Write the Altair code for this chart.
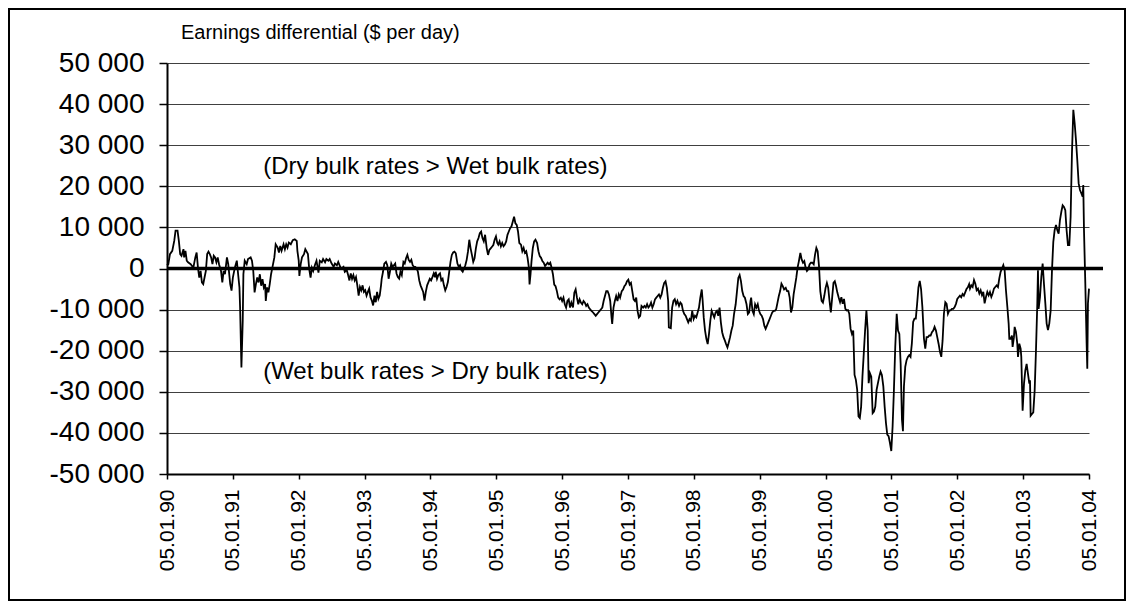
import altair as alt
import pandas as pd

# ---- data (decimal year, differential in thousand $/day) ----
years_a = [1990.00, 1990.02, 1990.045, 1990.08, 1990.11, 1990.13, 1990.16, 1990.18, 1990.20, 1990.22, 1990.25, 1990.26, 1990.28, 1990.30, 1990.32, 1990.36,
           1990.40, 1990.43, 1990.45, 1990.47, 1990.49, 1990.51, 1990.53, 1990.55, 1990.57, 1990.59, 1990.61, 1990.63, 1990.65, 1990.67, 1990.69, 1990.71,
           1990.73, 1990.75, 1990.77, 1990.79, 1990.82, 1990.84, 1990.86, 1990.88, 1990.91, 1990.93, 1990.96, 1990.98,
           1991.00, 1991.03, 1991.06, 1991.08, 1991.10, 1991.11, 1991.13, 1991.15, 1991.16, 1991.18, 1991.21, 1991.23, 1991.27, 1991.29, 1991.31, 1991.33,
           1991.35, 1991.37, 1991.39, 1991.41, 1991.43, 1991.45, 1991.47, 1991.49, 1991.50, 1991.52, 1991.54, 1991.56, 1991.58, 1991.60, 1991.63, 1991.65,
           1991.68, 1991.70, 1991.72, 1991.74, 1991.77, 1991.79, 1991.81, 1991.83, 1991.85, 1991.88, 1991.91, 1991.94, 1991.97, 1991.98,
           1992.00, 1992.01, 1992.03, 1992.05, 1992.08, 1992.10, 1992.14, 1992.16, 1992.18, 1992.20, 1992.22, 1992.25, 1992.27, 1992.30, 1992.32, 1992.35,
           1992.37, 1992.40, 1992.42, 1992.45, 1992.47]
vals_a = [0.8, 1.05, 3.5, 4.3, 6.7, 9.2, 9.2, 6.7, 3.5, 3.1, 4.7, 2.7, 4.3, 1.9, 1.5, 1.05,
          0.2, 2.7, 3.9, 0.2, -2.2, -0.6, -3.4, -3.8, -2.2, -0.6, 3.5, 4.1, 3.5, 2.7, 1.05, 3.1,
          2.7, 1.5, 2.7, 1.05, -0.6, -3.4, -0.6, -1.4, 2.7, 1.05, -3.8, -5.4,
          -2.2, 0.2, 1.9, -1.4, -4.6, -9.5, -24.1, -12.7, -1.4, 1.9, 1.05, 2.3, 2.7, 1.9, -0.6, -5.8,
          -3.8, -2.2, -3.4, -1.4, -4.2, -2.6, -4.6, -3.8, -7.9, -4.6, -5.8, -3.8, -1.4, 0.2, 2.7, 5.9,
          5.1, 3.9, 5.5, 4.3, 5.9, 4.7, 5.9, 5.1, 6.3, 5.9, 6.9, 7.1, 6.7, 4.3,
          1.9, -1.8, 1.05, 2.7, 3.5, 4.7, 3.5, -0.2, -2.2, 0.2, -0.6, 1.05, 1.9, -1.0, 1.9, 1.5,
          2.3, 1.5, 2.3, 1.9, 2.3]

years_b = [1992.50, 1992.53, 1992.55, 1992.58, 1992.60, 1992.63, 1992.65, 1992.68, 1992.70, 1992.73, 1992.75, 1992.77, 1992.79, 1992.81, 1992.83,
           1992.85, 1992.87, 1992.89, 1992.91, 1992.93, 1992.95, 1992.97, 1992.99,
           1993.01, 1993.03, 1993.05, 1993.07, 1993.09, 1993.11, 1993.13, 1993.15, 1993.17, 1993.19, 1993.21, 1993.23, 1993.25, 1993.26, 1993.28, 1993.30,
           1993.325, 1993.345, 1993.365, 1993.385, 1993.405, 1993.425, 1993.445, 1993.465, 1993.485, 1993.505, 1993.525, 1993.545, 1993.565, 1993.59,
           1993.61, 1993.63, 1993.65, 1993.67, 1993.69, 1993.71, 1993.73, 1993.75, 1993.77, 1993.79, 1993.81, 1993.83, 1993.85, 1993.87, 1993.89, 1993.91,
           1993.93, 1993.95, 1993.97, 1993.99,
           1994.01, 1994.03, 1994.05, 1994.07, 1994.08, 1994.10, 1994.12, 1994.145, 1994.165, 1994.185, 1994.205, 1994.225, 1994.245, 1994.265, 1994.285,
           1994.305, 1994.325, 1994.345, 1994.365, 1994.385, 1994.41, 1994.43, 1994.45, 1994.47, 1994.49, 1994.51, 1994.53, 1994.55, 1994.57, 1994.59,
           1994.61, 1994.63, 1994.65, 1994.67, 1994.69, 1994.71, 1994.73, 1994.75, 1994.77, 1994.79, 1994.81, 1994.83, 1994.855, 1994.875, 1994.895,
           1994.915, 1994.935, 1994.955, 1994.975, 1994.995, 1995.015]
vals_b = [1.2, 0.4, 1.2, 0.8, 1.6, 0.4, 0.0, 0.4, -0.8, -0.4, -1.6, -2.9, -1.2, -2.5, -1.6,
          -2.9, -2.1, -4.1, -6.6, -4.5, -5.3, -4.1, -5.7,
          -5.3, -6.6, -5.7, -4.9, -7.0, -7.8, -9.0, -6.6, -8.2, -5.7, -7.4, -6.6, -4.1, -2.5, -0.8, 1.2,
          1.6, 0.8, -2.5, -0.8, 1.2, 0.4, 0.8, 1.2, -1.2, -2.1, -2.5, -0.8, -1.6, 1.6,
          1.2, 2.5, 3.3, 2.1, 1.6, 2.1, 0.8, 0.4, 0.4, 0.0, -0.8, -2.9, -4.1, -4.9, -5.7, -7.8,
          -5.7, -4.1, -3.3, -2.5,
          -2.9, -2.1, -1.2, -2.1, -0.8, -2.5, -1.6, -1.2, -2.9, -2.5, -4.1, -5.3, -4.5, -3.3, -0.8,
          1.6, 3.3, 3.9, 4.1, 3.7, 1.2, 0.4, 0.8, -0.4, -0.8, 0.0, 0.8, 2.1, 4.1, 7.0,
          4.9, 3.3, 1.6, 2.5, 4.9, 6.6, 7.4, 8.6, 9.0, 7.4, 6.6, 8.2, 4.9, 3.3, 4.5,
          4.9, 5.3, 5.7, 7.0, 7.8, 6.2]

years_c = [1995.03, 1995.05, 1995.07, 1995.09, 1995.11, 1995.13, 1995.15, 1995.17, 1995.19, 1995.21,
           1995.23, 1995.25, 1995.27, 1995.29, 1995.31, 1995.33, 1995.35, 1995.375, 1995.395, 1995.415,
           1995.435, 1995.455, 1995.475, 1995.495, 1995.505, 1995.52, 1995.535, 1995.555, 1995.575, 1995.595,
           1995.62, 1995.64, 1995.66, 1995.68, 1995.70, 1995.72, 1995.74, 1995.76, 1995.78, 1995.80,
           1995.82, 1995.84, 1995.86, 1995.88, 1995.90, 1995.92, 1995.94, 1995.96, 1995.98,
           1996.00, 1996.02, 1996.04, 1996.06, 1996.08, 1996.10, 1996.12, 1996.14, 1996.165, 1996.185,
           1996.205, 1996.225, 1996.245, 1996.265, 1996.285, 1996.305, 1996.325, 1996.345, 1996.365, 1996.385,
           1996.405, 1996.425, 1996.445, 1996.47, 1996.49, 1996.51, 1996.53, 1996.55, 1996.57, 1996.59,
           1996.61, 1996.63, 1996.65, 1996.67, 1996.69, 1996.71, 1996.73, 1996.75, 1996.76, 1996.78,
           1996.80, 1996.82, 1996.84, 1996.86, 1996.88, 1996.905, 1996.925, 1996.945, 1996.965, 1996.985,
           1997.005, 1997.025, 1997.045, 1997.065, 1997.085, 1997.105, 1997.125, 1997.145, 1997.165, 1997.185,
           1997.205, 1997.23, 1997.25, 1997.27, 1997.29, 1997.31, 1997.33, 1997.35, 1997.37, 1997.39,
           1997.41, 1997.43, 1997.45, 1997.47, 1997.49, 1997.51, 1997.53, 1997.55, 1997.57]
vals_c = [5.8, 6.6, 5.4, 6.2, 5.4, 5.8, 6.6, 8.2, 9.0, 9.8,
          10.2, 11.4, 12.6, 11.0, 10.6, 9.0, 6.2, 5.8, 4.2, 5.0,
          3.8, 4.2, 2.6, 0.2, -3.9, -1.4, 1.8, 5.0, 6.6, 7.0,
          6.2, 4.2, 3.0, 2.6, 1.8, 1.4, 0.6, 1.0, 1.4, 1.0,
          1.4, 0.2, -1.4, -3.9, -4.3, -5.5, -7.1, -7.5, -7.1,
          -7.9, -7.1, -8.7, -9.5, -7.9, -7.5, -9.5, -8.3, -9.5, -5.9,
          -5.1, -7.1, -8.7, -7.5, -8.3, -8.7, -7.9, -8.3, -9.1, -8.7,
          -9.5, -9.9, -10.3, -10.7, -11.1, -11.5, -11.1, -10.7, -10.3, -9.9,
          -9.5, -7.9, -6.7, -5.5, -5.5, -6.3, -7.9, -11.9, -13.5, -9.5,
          -7.9, -6.7, -7.9, -6.3, -7.1, -5.5, -5.1, -4.3, -3.9, -3.1,
          -2.7, -3.9, -3.5, -5.5, -7.5, -7.9, -7.1, -10.3, -11.9, -11.5,
          -9.1, -9.5, -9.1, -9.5, -8.7, -9.5, -9.1, -8.3, -9.5, -8.7,
          -7.5, -7.1, -6.7, -6.3, -7.1, -6.3, -4.7, -3.5, -3.1]

years_d = [1997.59, 1997.61, 1997.62, 1997.65, 1997.67, 1997.69, 1997.71, 1997.73, 1997.75, 1997.775,
           1997.795, 1997.815, 1997.835, 1997.855, 1997.875, 1997.895, 1997.915, 1997.935, 1997.955, 1997.975, 1997.997,
           1998.017, 1998.037, 1998.057, 1998.078, 1998.098, 1998.12, 1998.134, 1998.15, 1998.17, 1998.19,
           1998.21, 1998.23, 1998.25, 1998.27, 1998.29, 1998.31, 1998.33, 1998.35, 1998.37, 1998.39,
           1998.41, 1998.43, 1998.45, 1998.47, 1998.49, 1998.51, 1998.53, 1998.55, 1998.57, 1998.59,
           1998.61, 1998.635, 1998.655, 1998.675, 1998.695, 1998.715, 1998.735, 1998.755, 1998.775, 1998.80,
           1998.82, 1998.84, 1998.86, 1998.87, 1998.89, 1998.91, 1998.93, 1998.95, 1998.97, 1998.99,
           1999.01, 1999.03, 1999.05, 1999.07, 1999.09, 1999.11, 1999.13, 1999.15, 1999.17, 1999.19,
           1999.21, 1999.23, 1999.25, 1999.27, 1999.29, 1999.31, 1999.33, 1999.35, 1999.37, 1999.395,
           1999.415, 1999.435, 1999.455, 1999.475, 1999.495, 1999.515, 1999.535, 1999.555, 1999.575, 1999.595,
           1999.617, 1999.637, 1999.657, 1999.677, 1999.697, 1999.717, 1999.737, 1999.757, 1999.777, 1999.80,
           1999.82, 1999.84, 1999.86, 1999.88, 1999.90, 1999.92, 1999.94, 1999.96, 1999.98,
           2000.00, 2000.02, 2000.04, 2000.06, 2000.08, 2000.10, 2000.12, 2000.14]
vals_d = [-4.7, -7.9, -14.3, -14.5, -9.5, -7.9, -7.5, -8.7, -7.9, -9.1,
          -8.3, -8.7, -10.3, -11.1, -11.5, -12.3, -13.1, -12.3, -12.7, -10.3, -12.3,
          -11.5, -11.9, -10.7, -9.5, -7.1, -5.1, -7.9, -11.9, -15.1, -17.1,
          -18.4, -15.9, -12.7, -10.3, -11.1, -11.9, -10.7, -10.3, -11.5, -9.5,
          -13.1, -15.5, -16.7, -17.5, -18.4, -19.2, -18.0, -16.7, -15.1, -13.9,
          -11.1, -8.7, -5.5, -2.3, -1.6, -3.1, -5.5, -6.7, -7.1, -8.7,
          -11.1, -10.7, -7.9, -7.1, -10.3, -11.1, -8.7, -9.5, -8.7, -10.3,
          -11.1, -11.5, -12.3, -13.9, -14.7, -13.9, -13.1, -12.3, -11.5, -10.7,
          -10.3, -10.3, -9.9, -8.3, -6.7, -5.5, -3.7, -4.3, -5.1, -4.7,
          -5.5, -5.5, -7.1, -10.7, -9.5, -6.3, -4.3, -2.3, 0.2, 1.8,
          3.8, 2.2, 1.4, 1.8, 0.2, -0.6, -0.2, 1.0, 1.4, 1.4,
          1.0, 3.4, 5.0, 4.2, 0.6, -5.5, -7.9, -8.3, -6.7,
          -4.7, -3.5, -4.7, -7.9, -10.7, -7.1, -3.5, -3.1]

years_e = [2000.158, 2000.178, 2000.198, 2000.22, 2000.24, 2000.26, 2000.28, 2000.30, 2000.32, 2000.34,
           2000.36, 2000.38, 2000.40, 2000.42, 2000.44, 2000.46, 2000.48, 2000.50, 2000.52, 2000.54,
           2000.56, 2000.58, 2000.60, 2000.62, 2000.64, 2000.654, 2000.674, 2000.694, 2000.715, 2000.735,
           2000.755, 2000.775, 2000.795, 2000.815, 2000.835, 2000.855, 2000.877, 2000.897, 2000.917, 2000.937,
           2000.957, 2000.977, 2000.998,
           2001.018, 2001.038, 2001.058, 2001.08, 2001.10, 2001.12, 2001.14, 2001.16, 2001.175, 2001.19,
           2001.21, 2001.23, 2001.25, 2001.27, 2001.29, 2001.31, 2001.33, 2001.35, 2001.37, 2001.39,
           2001.41, 2001.43, 2001.45, 2001.47, 2001.494, 2001.514, 2001.534, 2001.555, 2001.575, 2001.595,
           2001.615, 2001.635, 2001.655, 2001.676, 2001.696, 2001.716, 2001.737, 2001.757, 2001.777, 2001.797,
           2001.818, 2001.838, 2001.858, 2001.878, 2001.899, 2001.919, 2001.94, 2001.96, 2001.98,
           2002.00, 2002.02, 2002.04, 2002.06, 2002.08, 2002.10, 2002.12, 2002.14, 2002.16, 2002.18]
vals_e = [-4.2, -5.8, -7.0, -8.2, -7.0, -8.6, -7.4, -9.8, -10.2, -10.1,
          -11.0, -14.7, -15.9, -15.1, -25.9, -27.1, -29.5, -36.0, -36.4, -33.6,
          -26.3, -20.7, -15.1, -10.2, -15.1, -27.9, -25.5, -26.3, -35.2, -34.8,
          -33.6, -29.5, -27.9, -26.3, -25.1, -25.9, -28.7, -33.6, -37.6, -40.4,
          -40.8, -42.4, -44.4,
          -38.4, -29.5, -19.1, -11.0, -15.1, -15.9, -23.1, -36.8, -39.6, -28.7,
          -23.9, -22.3, -21.5, -21.1, -21.5, -18.3, -13.0, -12.2, -12.2, -8.6,
          -4.6, -3.0, -5.0, -9.4, -17.1, -19.5, -16.7, -16.7, -16.3, -16.3,
          -15.5, -15.1, -14.2, -15.1, -16.7, -18.3, -20.3, -21.5, -17.5, -11.0,
          -8.2, -8.6, -11.0, -10.2, -10.2, -9.8, -9.8, -9.4, -8.6,
          -7.4, -7.0, -6.6, -7.0, -6.2, -6.6, -5.8, -5.0, -4.6, -3.8]

years_f = [2002.193, 2002.213, 2002.233, 2002.254, 2002.274, 2002.294, 2002.314, 2002.335, 2002.355, 2002.375,
           2002.395, 2002.415, 2002.436, 2002.456, 2002.476, 2002.496, 2002.517, 2002.537, 2002.557, 2002.577,
           2002.598, 2002.618, 2002.638, 2002.658, 2002.679, 2002.699, 2002.719, 2002.739, 2002.76, 2002.78,
           2002.79, 2002.81, 2002.83, 2002.84, 2002.86, 2002.871, 2002.891, 2002.911, 2002.922, 2002.942,
           2002.962, 2002.972, 2002.992,
           2003.013, 2003.033, 2003.053, 2003.073, 2003.094, 2003.104, 2003.114, 2003.134, 2003.154, 2003.175,
           2003.195, 2003.215, 2003.225, 2003.235, 2003.256, 2003.276, 2003.296, 2003.316, 2003.337, 2003.357,
           2003.377, 2003.397, 2003.418, 2003.438, 2003.458, 2003.478, 2003.499, 2003.519, 2003.539, 2003.559,
           2003.58, 2003.60, 2003.62, 2003.64, 2003.66, 2003.68, 2003.701, 2003.721, 2003.741, 2003.762,
           2003.782, 2003.802, 2003.822, 2003.843, 2003.863, 2003.883, 2003.903, 2003.913, 2003.924, 2003.944,
           2003.964, 2003.974, 2003.984, 2004.0]
vals_f = [-4.9, -4.1, -4.5, -2.8, -3.7, -5.3, -4.9, -6.1, -5.3, -6.5,
          -5.7, -8.5, -6.9, -5.7, -6.5, -5.7, -6.9, -6.1, -4.9, -4.5,
          -4.1, -4.5, -2.4, -0.8, 0.0, 0.8, -0.4, -5.3, -9.3, -13.4,
          -17.1, -17.1, -16.3, -19.1, -16.7, -14.2, -15.4, -18.3, -21.5, -18.3,
          -19.5, -21.5, -34.6,
          -28.0, -24.8, -23.2, -25.6, -28.0, -27.2, -35.8, -35.4, -35.0, -29.7,
          -19.9, -8.5, -0.4, -9.8, -6.9, -2.0, 1.2, -3.7, -8.5, -13.4,
          -15.0, -13.4, -10.2, -0.4, 6.5, 9.3, 10.6, 9.3, 8.5, 11.8,
          13.8, 15.4, 15.0, 14.2, 9.3, 5.7, 5.7, 12.6, 28.0, 38.6,
          35.4, 31.3, 26.4, 20.7, 19.1, 18.3, 17.5, 20.3, 9.3, -3.7,
          -18.3, -24.4, -8.5, -4.9]

tick_years = list(range(1990, 2005))
y_ticks = list(range(-50000, 50001, 10000))
title_text = "Earnings differential ($ per day)"
note_labels = ["(Dry bulk rates > Wet bulk rates)", "(Wet bulk rates > Dry bulk rates)"]
note_x = [1991.46, 1991.46]
note_y = [24600, -25100]

# ---- build tables ----
years = years_a + years_b + years_c + years_d + years_e + years_f
vals = vals_a + vals_b + vals_c + vals_d + vals_e + vals_f
for ys, vs in [(years_a, vals_a), (years_b, vals_b), (years_c, vals_c), (years_d, vals_d), (years_e, vals_e), (years_f, vals_f)]:
    assert len(ys) == len(vs), (len(ys), len(vs), ys[0])
df = pd.DataFrame({"year": years, "diff": [v * 1000 for v in vals]})
notes = pd.DataFrame({"year": note_x, "diff": note_y, "label": note_labels})
zero_df = pd.DataFrame({"diff": [0]})

FONT = "Liberation Sans"
W, H = 922, 411

xscale = alt.Scale(domain=[1990, 2004], nice=False, zero=False)
yscale = alt.Scale(domain=[-50000, 50000], nice=False, zero=False)

x_axis = alt.Axis(values=tick_years, labelExpr="'05.01.' + substring(toString(datum.value), 2, 4)",
                  labelAngle=-90, labelFontSize=21, labelPadding=10, tickSize=5, tickWidth=1.5,
                  tickColor="black", domainColor="black", domainWidth=2, grid=False, title=None,
                  labelColor="black", labelFont=FONT)
y_axis = alt.Axis(values=y_ticks,
                  labelExpr="(datum.value < 0 ? '-' : '') + replace(format(abs(datum.value), ','), ',', ' ')",
                  labelFontSize=28, labelPadding=15, tickSize=8, tickWidth=1.5, tickColor="black",
                  domainColor="black", domainWidth=2, grid=True, gridColor="#404040", gridWidth=1,
                  title=None, labelColor="black", labelFont=FONT)

X = alt.X("year:Q", scale=xscale, axis=x_axis)
Y = alt.Y("diff:Q", scale=yscale, axis=y_axis)

line = alt.Chart(df).mark_line(color="black", strokeWidth=1.8).encode(x=X, y=Y)

frame = alt.Chart(pd.DataFrame({"a": [0]})).mark_rect(
    fillOpacity=0, stroke="black", strokeWidth=2
).encode(x=alt.value(-158), x2=alt.value(W + 36), y=alt.value(-54), y2=alt.value(H + 126))

zero = alt.Chart(zero_df).mark_rule(color="black", strokeWidth=3.5).encode(
    y=Y, x=alt.value(0), x2=alt.value(W + 14)
)

note_marks = alt.Chart(notes).mark_text(align="left", baseline="middle", fontSize=24, font=FONT, color="black").encode(
    x=X, y=Y, text="label:N",
)

title_mark = alt.Chart(pd.DataFrame({"t": [title_text]})).mark_text(
    align="left", baseline="middle", fontSize=20, font=FONT, color="black"
).encode(x=alt.value(14), y=alt.value(-30), text="t:N")

chart = alt.layer(line, zero, note_marks, title_mark, frame).properties(
    width=W, height=H,
    autosize=alt.AutoSizeParams(type="none"),
    padding={"left": 159, "top": 55, "right": 37, "bottom": 128},
).configure_view(stroke=None)

chart.save("out.html", embed_options={"renderer": "svg", "actions": False})
